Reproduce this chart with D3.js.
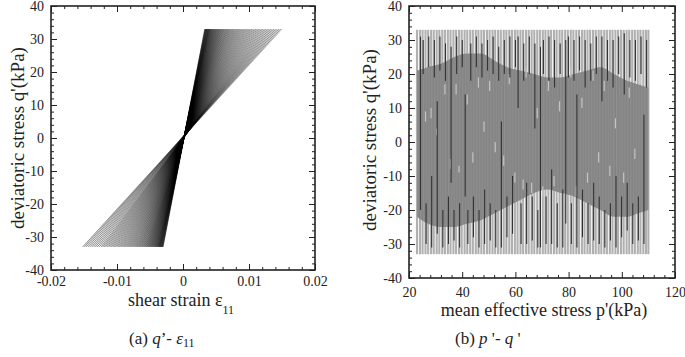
<!DOCTYPE html>
<html>
<head>
<meta charset="utf-8">
<script src="https://cdn.jsdelivr.net/npm/d3@7/dist/d3.min.js"></script>
<style>
  body { margin: 0; background: #fff; }
  svg { display: block; font-family: "Liberation Serif", "Times New Roman", serif; }
</style>
</head>
<body>
<div id="chart"></div>
<script>
// ---- dados (a): picos de deformação de cada ciclo
const strainPos = [
  0.0033, 0.00335, 0.0034, 0.00345, 0.0035, 0.00355, 0.0036, 0.00365, 0.0037, 0.00375,
  0.0038, 0.00385, 0.0039, 0.00395, 0.0040, 0.00406, 0.00412, 0.00418, 0.00424, 0.0043,
  0.00437, 0.00444, 0.00451, 0.00458, 0.00465, 0.00472, 0.0048, 0.00488, 0.00496, 0.00504,
  0.00512, 0.0052, 0.00529, 0.00538, 0.00547, 0.00556, 0.00565, 0.00575, 0.00585, 0.00595,
  0.00605, 0.00616, 0.00627, 0.00638, 0.0065, 0.00662, 0.00674, 0.00686, 0.00699, 0.00712,
  0.00725, 0.00739, 0.00753, 0.00767, 0.00782, 0.00797, 0.00812, 0.00828, 0.00844, 0.0086,
  0.00877, 0.00894, 0.00911, 0.00929, 0.00947, 0.00965, 0.00984, 0.01003, 0.01022, 0.01042,
  0.01062, 0.01082, 0.01103, 0.01124, 0.01145, 0.01167, 0.01189, 0.01211, 0.01234, 0.01257,
  0.0128, 0.01304, 0.01328, 0.01352, 0.01377, 0.01402, 0.01427, 0.01453, 0.01479, 0.0150
];
const strainNeg = [
  -0.0030, -0.00305, -0.0031, -0.00315, -0.0032, -0.00325, -0.0033, -0.00335, -0.0034, -0.00345,
  -0.0035, -0.00355, -0.0036, -0.00365, -0.0037, -0.00376, -0.00382, -0.00388, -0.00394, -0.0040,
  -0.00407, -0.00414, -0.00421, -0.00428, -0.00435, -0.00442, -0.0045, -0.00458, -0.00466, -0.00474,
  -0.00482, -0.0049, -0.00499, -0.00508, -0.00517, -0.00526, -0.00535, -0.00545, -0.00555, -0.00565,
  -0.00576, -0.00587, -0.00598, -0.0061, -0.00622, -0.00634, -0.00646, -0.00659, -0.00672, -0.00685,
  -0.00699, -0.00713, -0.00727, -0.00742, -0.00757, -0.00772, -0.00788, -0.00804, -0.0082, -0.00837,
  -0.00854, -0.00871, -0.00889, -0.00907, -0.00925, -0.00944, -0.00963, -0.00982, -0.01002, -0.01022,
  -0.01042, -0.01063, -0.01084, -0.01105, -0.01127, -0.01149, -0.01171, -0.01194, -0.01217, -0.0124,
  -0.01268, -0.01296, -0.01324, -0.01352, -0.0138, -0.01409, -0.01438, -0.01467, -0.01494, -0.0152
];
const qAmp = 33;

// ---- dados (b): posições p' das trajetórias verticais
const pLines = [
  23.0, 24.1, 25.1, 26.2, 27.2, 28.3, 29.3, 30.4, 31.4, 32.5, 33.5, 34.6, 35.6, 36.7, 37.7,
  38.8, 39.8, 40.9, 41.9, 43.0, 44.0, 45.1, 46.1, 47.2, 48.2, 49.3, 50.3, 51.4, 52.4, 53.5,
  54.5, 55.6, 56.6, 57.7, 58.7, 59.8, 60.8, 61.9, 62.9, 64.0, 65.0, 66.1, 67.1, 68.2, 69.2,
  70.3, 71.3, 72.4, 73.4, 74.5, 75.5, 76.6, 77.6, 78.7, 79.7, 80.8, 81.8, 82.9, 83.9, 85.0,
  86.0, 87.1, 88.1, 89.2, 90.2, 91.3, 92.3, 93.4, 94.4, 95.5, 96.5, 97.6, 98.6, 99.7, 100.7,
  101.8, 102.8, 103.9, 104.9, 106.0, 107.0, 108.1, 109.1, 110.0
];
// faixa cinza central
const bandP     = [23, 27, 32, 37, 42, 47, 52, 57, 62, 67, 72, 77, 82, 87, 92, 97, 102, 106, 110];
const bandUpper = [21, 22, 23, 25, 26, 26, 24, 22, 21, 20, 19, 19, 20, 21, 22, 20, 18, 17, 16];
const bandLower = [-22, -24, -25, -25, -24, -23, -21, -19, -17, -15, -14, -15, -16, -18, -20, -22, -22, -21, -20];
// trechos escuros [p, q0, q1]
const darkSegs = [
  [24.1, -20, 31], [25.1, 20, 30], [26.2, -30, -18], [27.2, 22, 31], [28.3, -31, -10],
  [29.3, 19, 30], [30.4, -27, 12], [31.4, 21, 31], [32.5, -31, -20], [33.5, 18, 29],
  [34.6, -30, -16], [35.6, -12, 28], [36.7, -29, -20], [37.7, 20, 31], [38.8, -31, -18],
  [39.8, 22, 30], [40.9, -16, 14], [41.9, -30, -20], [43.0, 18, 29], [44.0, -28, -16],
  [45.1, 22, 31], [46.1, -31, -20], [47.2, 19, 29], [48.2, -30, -14], [49.3, 21, 30],
  [50.3, -29, -18], [51.4, 20, 31], [52.4, -31, -20], [53.5, 18, 28], [54.5, -31, 6],
  [55.6, 20, 30], [56.6, -28, -16], [57.7, 19, 31], [58.7, -27, -10], [59.8, 22, 30],
  [60.8, 10, 31], [61.9, -30, -18], [62.9, 18, 29], [64.0, -30, -12], [65.0, 20, 31],
  [66.1, -29, -16], [67.1, 4, 29], [68.2, -31, -20], [69.2, -31, 28], [70.3, 20, 30],
  [71.3, -30, -16], [72.4, 18, 31], [73.4, -30, -8], [74.5, 16, 30], [75.5, -31, -18],
  [76.6, 20, 29], [77.6, -31, -14], [78.7, -24, 30], [79.7, 19, 31], [80.8, -30, -18],
  [81.8, 18, 30], [82.9, -31, 14], [83.9, 21, 31], [85.0, -28, -14], [86.0, 16, 30],
  [87.1, -30, -18], [88.1, 18, 29], [89.2, -29, -12], [90.2, 20, 31], [91.3, -30, -16],
  [92.3, 12, 31], [93.4, -31, -20], [94.4, 18, 30], [95.5, -29, -18], [96.5, 16, 30],
  [97.6, -31, -10], [98.6, 20, 31], [99.7, -28, -16], [100.7, 14, 32], [101.8, -26, -12],
  [102.8, 19, 30], [103.9, -30, -18], [104.9, 18, 30], [106.0, -29, -16], [107.0, 20, 31],
  [108.1, -30, 8], [109.1, 16, 30]
];
// trechos claros curtos [p, q0, q1]
const lightDashes = [
  [26.2, 6, 9], [28.3, 7, 10], [30.4, 2, 4], [33.5, 14, 17], [35.6, -8, -5], [37.7, 14, 17],
  [38.8, -9, -7], [41.9, 11, 14], [44.0, -6, -3], [46.1, 16, 19], [48.2, 3, 6], [50.3, 15, 18],
  [52.4, -3, 0], [55.6, -7, -4], [57.7, 17, 20], [59.8, -12, -9], [62.9, -14, -11], [64.0, 19, 22],
  [66.1, -15, -12], [68.2, 7, 10], [70.3, -16, -13], [72.4, 15, 18], [74.5, -13, -10], [76.6, 9, 12],
  [78.7, -18, -15], [80.8, 19, 22], [82.9, -16, -13], [85.0, 10, 13], [87.1, -12, -9], [89.2, 18, 21],
  [91.3, -6, -3], [93.4, 15, 18], [95.5, -10, -7], [97.6, 4, 7], [100.7, -12, -9], [102.8, 13, 16],
  [104.9, -5, -2], [107.0, 17, 20]
];

// ---- ticks
const xTicksA = [-0.02, -0.01, 0, 0.01, 0.02];
const xMinorA = [-0.018, -0.016, -0.014, -0.012, -0.008, -0.006, -0.004, -0.002,
                 0.002, 0.004, 0.006, 0.008, 0.012, 0.014, 0.016, 0.018];
const xTicksB = [20, 40, 60, 80, 100, 120];
const xMinorB = [24, 28, 32, 36, 44, 48, 52, 56, 64, 68, 72, 76, 84, 88, 92, 96, 104, 108, 112, 116];
const yTicks = [-40, -30, -20, -10, 0, 10, 20, 30, 40];
const yMinor = [-38, -36, -34, -32, -28, -26, -24, -22, -18, -16, -14, -12, -8, -6, -4, -2,
                2, 4, 6, 8, 12, 14, 16, 18, 22, 24, 26, 28, 32, 34, 36, 38];

const svg = d3.select("#chart").append("svg")
  .attr("width", 685)
  .attr("height", 357);

// padrão de listras para a faixa central
const listras = svg.append("defs").append("pattern")
  .attr("id", "listras")
  .attr("patternUnits", "userSpaceOnUse")
  .attr("width", 2.8)
  .attr("height", 6);
listras.append("rect").attr("width", 2.8).attr("height", 6).attr("fill", "#8e8e8e");
listras.append("rect").attr("x", 1.6).attr("width", 0.7).attr("height", 6).attr("fill", "#767676");

// moldura com ticks para dentro nos 4 lados
function moldura(g, x, y, xTicks, xMinor, fmtX, padX) {
  const [x0, x1] = x.range();
  const [y0, y1] = y.range();

  const axes = [
    [d3.axisBottom(x).tickValues(xTicks).tickSize(-6).tickPadding(padX).tickFormat(fmtX), `translate(0,${y0})`],
    [d3.axisBottom(x).tickValues(xMinor).tickSize(-3).tickFormat(""), `translate(0,${y0})`],
    [d3.axisTop(x).tickValues(xTicks).tickSize(-6).tickFormat(""), `translate(0,${y1})`],
    [d3.axisTop(x).tickValues(xMinor).tickSize(-3).tickFormat(""), `translate(0,${y1})`],
    [d3.axisLeft(y).tickValues(yTicks).tickSize(-6).tickPadding(7).tickFormat(d => String(d)), `translate(${x0},0)`],
    [d3.axisLeft(y).tickValues(yMinor).tickSize(-3).tickFormat(""), `translate(${x0},0)`],
    [d3.axisRight(y).tickValues(yTicks).tickSize(-6).tickFormat(""), `translate(${x1},0)`],
    [d3.axisRight(y).tickValues(yMinor).tickSize(-3).tickFormat(""), `translate(${x1},0)`]
  ];
  axes.forEach(([ax, tr]) => {
    const a = g.append("g").attr("transform", tr).call(ax);
    a.select(".domain").remove();
    a.selectAll("line").attr("stroke", "#222");
    a.selectAll("text")
      .attr("fill", "#222")
      .style("font-family", "'Liberation Serif', serif")
      .style("font-size", "14px");
  });

  g.append("rect")
    .attr("x", x0).attr("y", y1)
    .attr("width", x1 - x0).attr("height", y0 - y1)
    .attr("fill", "none")
    .attr("stroke", "#222")
    .attr("stroke-width", 1.6);
}

// ===== (a) q' - e11
const xA = d3.scaleLinear().domain([-0.02, 0.02]).range([51, 315]);
const yA = d3.scaleLinear().domain([-40, 40]).range([270, 6]);
const gA = svg.append("g");

// cada meio ciclo vira um segmento (subida e descida)
const segmentosA = [];
strainPos.forEach((sp, i) => {
  segmentosA.push([[strainNeg[i], -qAmp], [sp, qAmp]]);
  if (i + 1 < strainNeg.length) segmentosA.push([[sp, qAmp], [strainNeg[i + 1], -qAmp]]);
});

const linhaA = d3.line()
  .x(d => xA(d[0]))
  .y(d => yA(d[1]));

gA.append("g").selectAll("path")
  .data(segmentosA)
  .join("path")
  .attr("fill", "none")
  .attr("stroke", "#000")
  .attr("stroke-opacity", 0.42)
  .attr("stroke-width", 0.6)
  .attr("d", linhaA);

moldura(gA, xA, yA, xTicksA, xMinorA, d => String(d), 6);

gA.append("text")
  .attr("transform", "translate(24,138) rotate(-90)")
  .attr("text-anchor", "middle")
  .style("font-size", "19px")
  .attr("fill", "#222")
  .text("deviatoric stress q'(kPa)");

const tA = gA.append("text")
  .attr("x", 128).attr("y", 306)
  .style("font-size", "18px")
  .attr("fill", "#222");
tA.append("tspan").text("shear strain  ε");
tA.append("tspan").attr("dy", 8).style("font-size", "12px").text("11");

const cA = svg.append("text")
  .attr("x", 129).attr("y", 344)
  .style("font-size", "17px")
  .attr("fill", "#222");
cA.append("tspan").text("(a) ");
cA.append("tspan").style("font-style", "italic").text("q");
cA.append("tspan").text("’- ");
cA.append("tspan").style("font-style", "italic").text("ε");
cA.append("tspan").attr("dy", 3).style("font-size", "12px").text("11");

// ===== (b) p' - q'
const xB = d3.scaleLinear().domain([20, 120]).range([409, 675]);
const yB = d3.scaleLinear().domain([-40, 40]).range([278, 6]);
const gB = svg.append("g");

gB.append("g").selectAll("line")
  .data(pLines)
  .join("line")
  .attr("x1", d => xB(d)).attr("x2", d => xB(d))
  .attr("y1", yB(-qAmp)).attr("y2", yB(qAmp))
  .attr("stroke", "#b0b0b0")
  .attr("stroke-width", 2.1);

const faixa = d3.area()
  .x((d, i) => xB(bandP[i]))
  .y0((d, i) => yB(bandLower[i]))
  .y1((d, i) => yB(bandUpper[i]))
  .curve(d3.curveMonotoneX);

gB.append("path")
  .datum(bandP)
  .attr("fill", "url(#listras)")
  .attr("d", faixa);

gB.append("g").selectAll("line")
  .data(lightDashes)
  .join("line")
  .attr("x1", d => xB(d[0])).attr("x2", d => xB(d[0]))
  .attr("y1", d => yB(d[1])).attr("y2", d => yB(d[2]))
  .attr("stroke", "#c4c4c4")
  .attr("stroke-width", 1.2);

gB.append("g").selectAll("line")
  .data(darkSegs)
  .join("line")
  .attr("x1", d => xB(d[0]) + 0.6).attr("x2", d => xB(d[0]) + 0.6)
  .attr("y1", d => yB(d[1])).attr("y2", d => yB(d[2]))
  .attr("stroke", "#333")
  .attr("stroke-width", 1.1);

moldura(gB, xB, yB, xTicksB, xMinorB, d => String(d), 9);

gB.append("text")
  .attr("transform", "translate(376,140) rotate(-90)")
  .attr("text-anchor", "middle")
  .style("font-size", "19px")
  .attr("fill", "#222")
  .text("deviatoric stress q'(kPa)");

gB.append("text")
  .attr("x", 544).attr("y", 316)
  .attr("text-anchor", "middle")
  .style("font-size", "18px")
  .attr("fill", "#222")
  .text("mean effective stress p'(kPa)");

const cB = svg.append("text")
  .attr("x", 455).attr("y", 344)
  .style("font-size", "17px")
  .attr("fill", "#222");
cB.append("tspan").text("(b) ");
cB.append("tspan").style("font-style", "italic").text("p");
cB.append("tspan").text(" '- ");
cB.append("tspan").style("font-style", "italic").text("q");
cB.append("tspan").text(" '");
</script>
</body>
</html>
